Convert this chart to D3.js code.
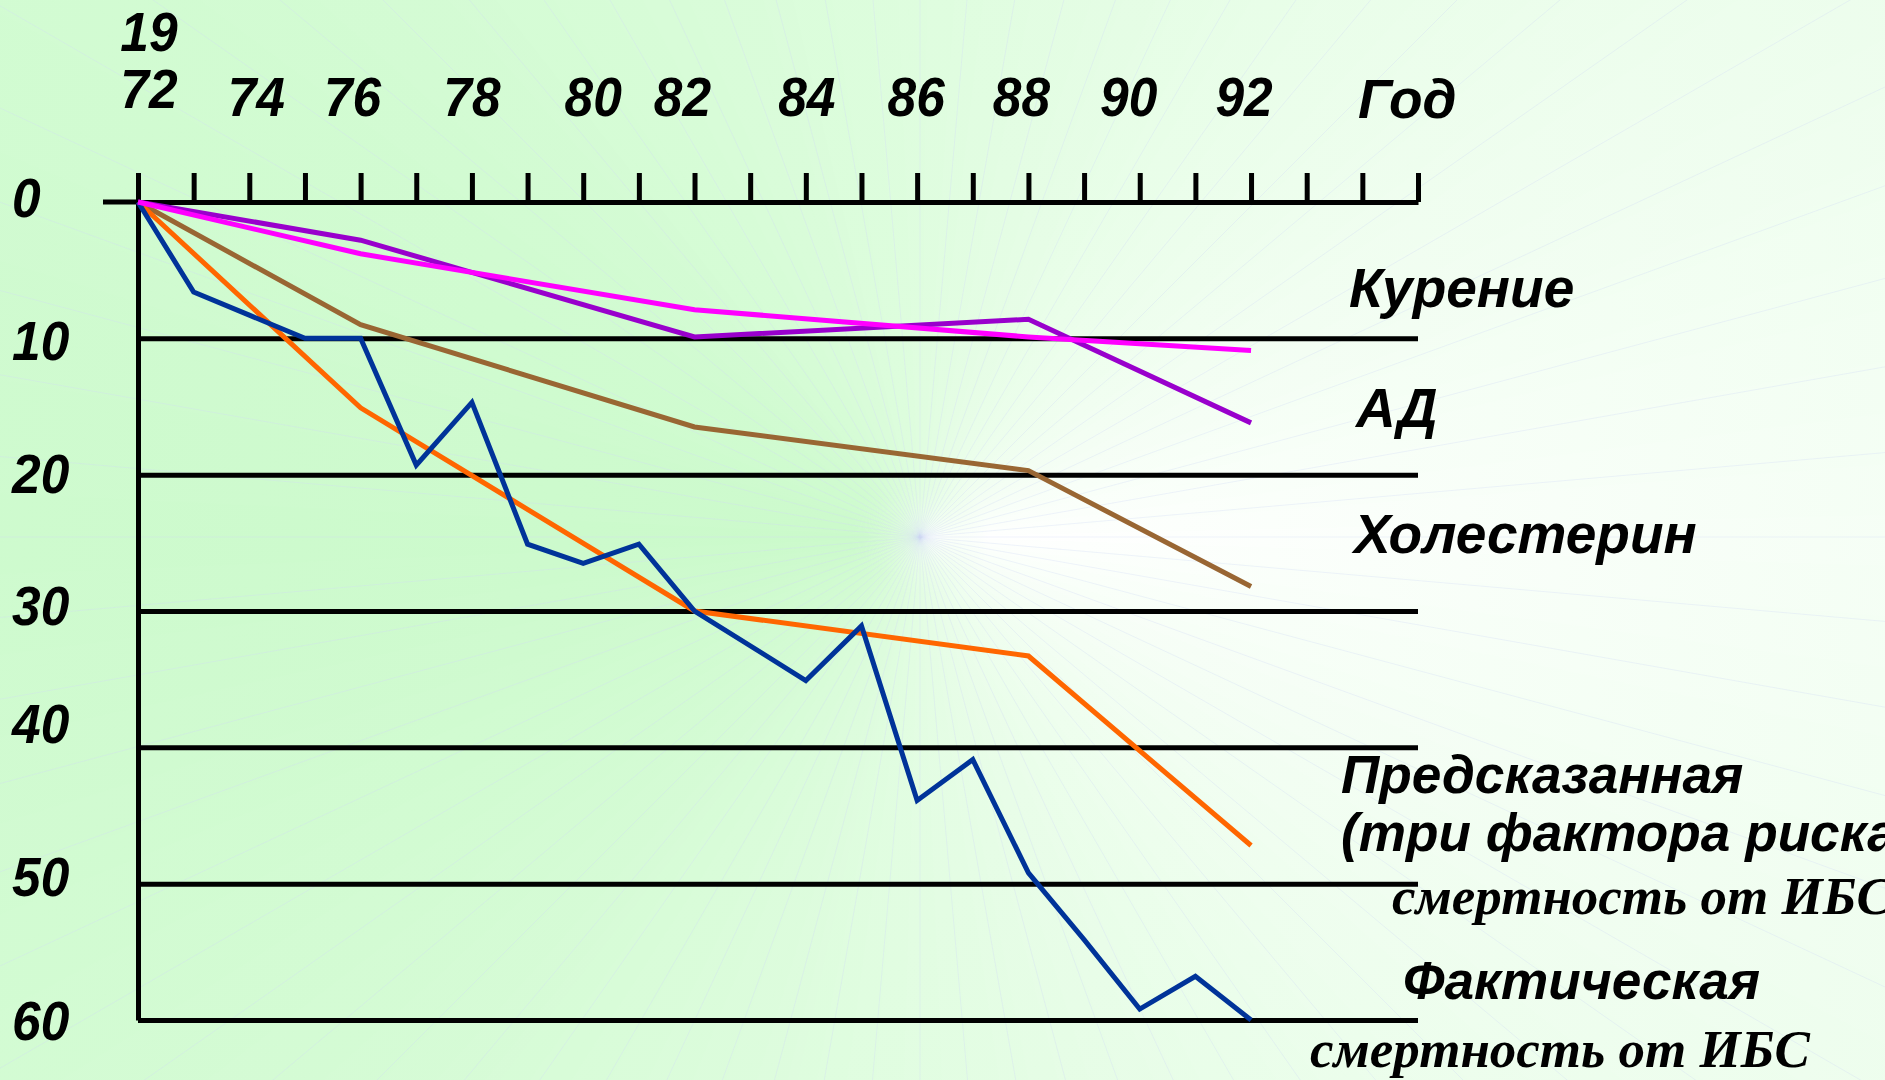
<!DOCTYPE html>
<html><head><meta charset="utf-8">
<script src="https://cdn.jsdelivr.net/npm/d3@7"></script>
<style>html,body{margin:0;padding:0;overflow:hidden;background:#fff}svg{display:block}</style>
</head><body>
<svg id="chart" width="1885" height="1080"></svg>
<script>
// ---------- DATA ----------
const tickYears = d3.range(1972, 1996);
const labelYears = [1974, 1976, 1978, 1980, 1982, 1984, 1986, 1988, 1990, 1992];
const labelTexts = ["74", "76", "78", "80", "82", "84", "86", "88", "90", "92"];
const yTickValues = [0, 10, 20, 30, 40, 50, 60];
const yTickLabels = ["0", "10", "20", "30", "40", "50", "60"];

const factorYears = [1972, 1976, 1982, 1988, 1992];
const smoking     = [0, 3.8, 7.9, 9.9, 10.9];      // Курение
const bloodPress  = [0, 2.8, 9.9, 8.6, 16.2];      // АД
const cholesterol = [0, 9.0, 16.5, 19.7, 28.2];    // Холестерин
const predicted   = [0, 15.1, 30.0, 33.3, 47.2];   // Предсказанная
const actualYears = [1972, 1973, 1974, 1975, 1976, 1977, 1978, 1979, 1980, 1981, 1982, 1984, 1985, 1986, 1987, 1988, 1989, 1990, 1991, 1992];
const actual      = [0, 6.6, 8.3, 10, 10, 19.3, 14.7, 25.1, 26.5, 25.1, 30.0, 35.1, 31.1, 43.9, 40.9, 49.2, 54.1, 59.2, 56.8, 60.0]; // Фактическая

// ---------- LAYOUT ----------
const W = 1885, H = 1080;
const svg = d3.select("#chart");
const x = d3.scaleLinear().domain([1972, 1995]).range([138, 1418]);
const y = d3.scaleLinear().domain([0, 60]).range([202, 1020]);

// background: conic-style gradient built from wedges
const cx = 920, cy = 537, R = 2600;
const bgStops = [[0, "#ffffff"], [40, "#f3fef3"], [90, "#e3fde3"], [140, "#d3fbd3"], [180, "#cbfacb"], [220, "#d1fbd1"], [270, "#dffddf"], [320, "#f1fef1"], [360, "#ffffff"]];
const bgColor = d3.scaleLinear().domain(bgStops.map(d => d[0])).range(bgStops.map(d => d[1])).interpolate(d3.interpolateRgb);
const bg = svg.append("g");
const step = 1;
bg.selectAll("path.w").data(d3.range(0, 360, step)).join("path")
  .attr("d", a => {
    const a0 = (a - 0.3) * Math.PI / 180, a1 = (a + step + 0.3) * Math.PI / 180;
    return `M${cx},${cy}L${cx + R * Math.cos(a0)},${cy + R * Math.sin(a0)}L${cx + R * Math.cos(a1)},${cy + R * Math.sin(a1)}Z`;
  })
  .attr("fill", a => bgColor(a + step / 2));
const defs = svg.append("defs");
const rg = defs.append("radialGradient").attr("id", "rg").attr("gradientUnits", "userSpaceOnUse")
  .attr("cx", cx).attr("cy", cy).attr("r", 1150);
rg.append("stop").attr("offset", 0).attr("stop-color", "#ffffff").attr("stop-opacity", 0.4);
rg.append("stop").attr("offset", 0.06).attr("stop-color", "#d8fcd8").attr("stop-opacity", 0);
rg.append("stop").attr("offset", 1).attr("stop-color", "#d8fcd8").attr("stop-opacity", 0.3);
bg.append("rect").attr("width", W).attr("height", H).attr("fill", "url(#rg)");
bg.selectAll("line.ray").data(d3.range(0, 360, 5)).join("line")
  .attr("x1", cx).attr("y1", cy)
  .attr("x2", a => cx + R * Math.cos(a * Math.PI / 180))
  .attr("y2", a => cy + R * Math.sin(a * Math.PI / 180))
  .attr("stroke", "#cfd8f5").attr("stroke-opacity", 0.4).attr("stroke-width", 0.8);

// ---------- AXES ----------
const gridG = svg.append("g").attr("transform", `translate(${x(1972)},0)`)
  .call(d3.axisLeft(y).tickValues(yTickValues.slice(1)).tickSize(-(x(1995) - x(1972))).tickSizeOuter(0).tickFormat(""));
gridG.selectAll("line").attr("stroke", "#000").attr("stroke-width", 5);
gridG.select(".domain").attr("stroke", "#000").attr("stroke-width", 5);

const topG = svg.append("g").attr("transform", `translate(0,${y(0)})`)
  .call(d3.axisTop(x).tickValues(tickYears).tickSize(29).tickSizeOuter(0).tickFormat(""));
topG.selectAll("line").attr("stroke", "#000").attr("stroke-width", 5);
topG.select(".domain").attr("stroke", "#000").attr("stroke-width", 5);
svg.append("line").attr("x1", x(1972) - 35).attr("x2", x(1972)).attr("y1", y(0)).attr("y2", y(0))
  .attr("stroke", "#000").attr("stroke-width", 5);

// ---------- LINES ----------
const line = d3.line().x(d => x(d[0])).y(d => y(d[1]));
const series = [
  {yrs: factorYears, vals: cholesterol, color: "#996633"},
  {yrs: factorYears, vals: predicted, color: "#ff6600"},
  {yrs: actualYears, vals: actual, color: "#003399"},
  {yrs: factorYears, vals: bloodPress, color: "#9900cc"},
  {yrs: factorYears, vals: smoking, color: "#ff00ff"}
];
svg.append("g").selectAll("path").data(series).join("path")
  .attr("d", s => line(s.yrs.map((yr, i) => [yr, s.vals[i]])))
  .attr("fill", "none").attr("stroke", s => s.color).attr("stroke-width", 5)
  .attr("stroke-linejoin", "miter");

// ---------- TEXT ----------
const SANS = "'Liberation Sans', Arial, sans-serif";
const SERIF = "'Liberation Serif', 'Times New Roman', serif";
function sans(str, tx, ty, fs, anchor, sx) {
  return svg.append("text").attr("transform", `translate(${tx},${ty}) scale(${sx || 1},1)`)
    .attr("font-family", SANS).attr("font-weight", "bold").attr("font-style", "italic")
    .attr("font-size", fs).attr("text-anchor", anchor || "start").attr("fill", "#000").text(str);
}
function serif(str, tx, ty, fs) {
  return svg.append("text").attr("x", tx).attr("y", ty)
    .attr("font-family", SERIF).attr("font-weight", "bold").attr("font-style", "italic")
    .attr("font-size", fs).attr("fill", "#000").text(str);
}
// x labels
const xNudge = {1974: 7, 1976: -8, 1978: 0, 1980: 10, 1982: -12, 1984: 1, 1986: -1, 1988: -7, 1990: -11, 1992: -7};
labelYears.forEach((yr, i) => sans(labelTexts[i], x(yr) + xNudge[yr], 116, 56, "middle", 0.92));
sans("19", x(1972) + 11, 51, 56, "middle", 0.92);
sans("72", x(1972) + 11, 108, 56, "middle", 0.92);
sans("Год", 1358, 118, 55, "start");
// y labels
const yNudge = {0: -5, 10: 2, 20: -2, 30: -6, 40: -24, 50: -8, 60: 0};
yTickValues.forEach((v, i) => sans(yTickLabels[i], 12, y(v) + yNudge[v] + 20, 56, "start", 0.92));
// series labels
sans("Курение", 1349, 307, 55);
sans("АД", 1356, 427, 55);
sans("Холестерин", 1354, 553, 55);
sans("Предсказанная", 1341, 793, 54, "start", 0.985);
sans("(три фактора риска)", 1341, 851, 54, "start", 0.985);
serif("смертность от ИБС", 1392, 914, 53);
sans("Фактическая", 1403, 999, 54, "start", 0.985);
serif("смертность от ИБС", 1310, 1067, 53);
</script>
</body></html>
